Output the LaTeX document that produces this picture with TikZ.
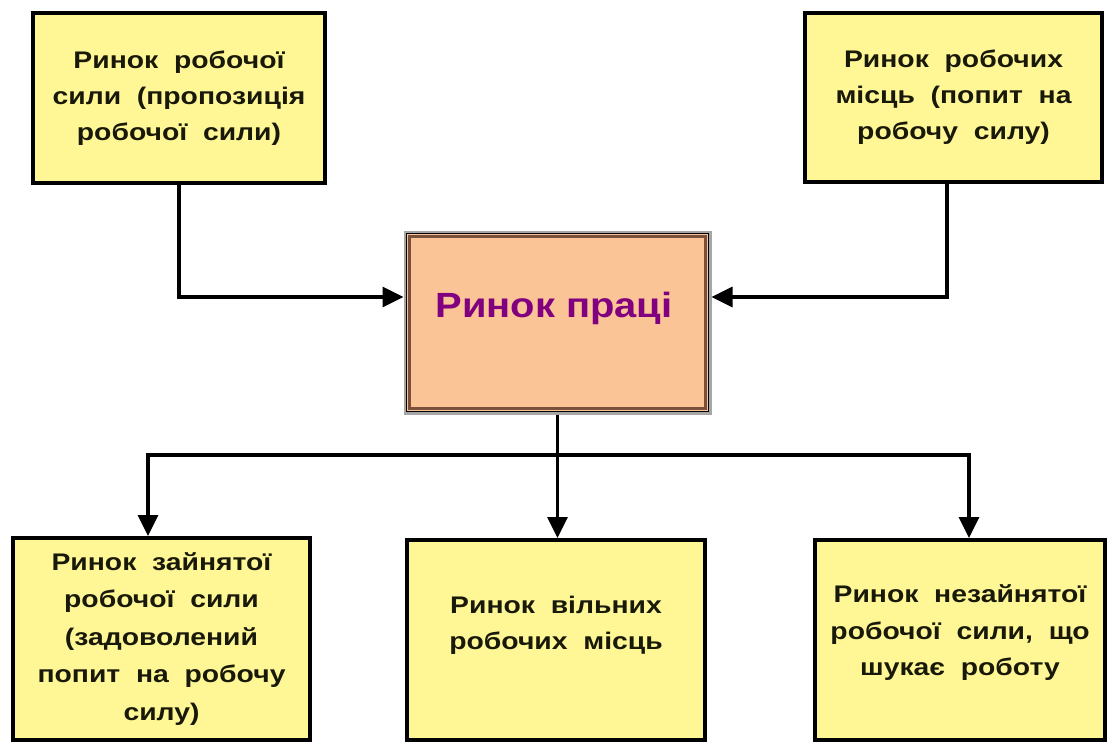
\documentclass[tikz,border=0pt]{standalone}
\usepackage{fontspec}
\setmainfont{Liberation Sans}
\newfontfamily\boxfont{Liberation Sans}[FakeStretch=1.18, WordSpace=2.0]
\newfontfamily\corefont{Liberation Sans}[FakeStretch=1.14]
\usetikzlibrary{arrows.meta,calc}
\definecolor{boxyellow}{RGB}{255,247,150}
\definecolor{coreorange}{RGB}{250,196,150}
\definecolor{corepurple}{RGB}{128,0,128}
\definecolor{corebrown}{RGB}{120,80,60}
\definecolor{txtdark}{RGB}{25,25,10}
\tikzset{
  box/.style={draw=black, line width=4pt, fill=boxyellow, inner sep=0pt},
  txt/.style={font=\boxfont\fontsize{24}{36}\selectfont\bfseries, text=txtdark, align=center, inner sep=0pt},
  conn/.style={line width=3.4pt, black},
  arr/.style={conn, -{Triangle[width=20pt,length=21pt]}},
}
\begin{document}
\begin{tikzpicture}[x=1pt,y=1pt]
\useasboundingbox[fill=white] (0,0) rectangle (1114,-742);
% top boxes
\node[box, minimum width=292pt, minimum height=170pt] (tl) at (179,-98) {};
\node[txt] (tlt) at (tl.center) {Ринок робочої\\сили (пропозиція\\робочої сили)};
\node[box, minimum width=297pt, minimum height=169pt] (tr) at (953.5,-97.5) {};
\node[txt] (trt) at (tr.center) {Ринок робочих\\місць (попит на\\робочу силу)};
% central box
\node[draw=gray!70, line width=3pt, fill=coreorange, minimum width=305pt, minimum height=181pt, inner sep=0pt] (c) at (557.5,-322.5) {};
\draw[black, line width=1.6pt] ([shift={(3pt,-3pt)}]c.north west) rectangle ([shift={(-3pt,3pt)}]c.south east);
\draw[corebrown, line width=3pt] ([shift={(6pt,-6pt)}]c.north west) rectangle ([shift={(-6pt,6pt)}]c.south east);
\node[font=\corefont\fontsize{35}{36}\selectfont\bfseries, text=corepurple, inner sep=0pt] (ct) at (554,-308) {Ринок праці};
% bottom boxes
\node[box, minimum width=297pt, minimum height=202pt] (bl) at (161.5,-639) {};
\node[txt, font=\boxfont\fontsize{24}{37.5}\selectfont\bfseries] (blt) at (161.5,-639) {Ринок зайнятої\\робочої сили\\(задоволений\\попит на робочу\\силу)};
\node[box, minimum width=298pt, minimum height=200pt] (bm) at (556,-640) {};
\node[txt] (bmt) at (556,-625) {Ринок вільних\\робочих місць};
\node[box, minimum width=290pt, minimum height=200pt] (br) at (960,-640) {};
\node[txt, font=\boxfont\fontsize{24}{36.5}\selectfont\bfseries] (brt) at (960,-633) {Ринок незайнятої\\робочої сили, що\\шукає роботу};
% connectors
\coordinate (cin) at (0,-297);
\coordinate (bus) at (0,-455);
\draw[arr] (tl.south) |- (c.west |- cin);
\draw[arr] ([xshift=-6.5pt]tr.south) |- (c.east |- cin);
\draw[conn] (c.south) -- (c.south |- bus);
\coordinate (bl-top) at ([xshift=-13.5pt]bl.north);
\coordinate (br-top) at ([xshift=9pt]br.north);
\draw[conn, line cap=rect] (bl-top |- bus) -- (br-top |- bus);
\draw[arr] (bl-top |- bus) -- (bl-top);
\draw[arr] (c.south |- bus) -- (c.south |- bm.north);
\draw[arr] (br-top |- bus) -- (br-top);
\end{tikzpicture}
\end{document}
